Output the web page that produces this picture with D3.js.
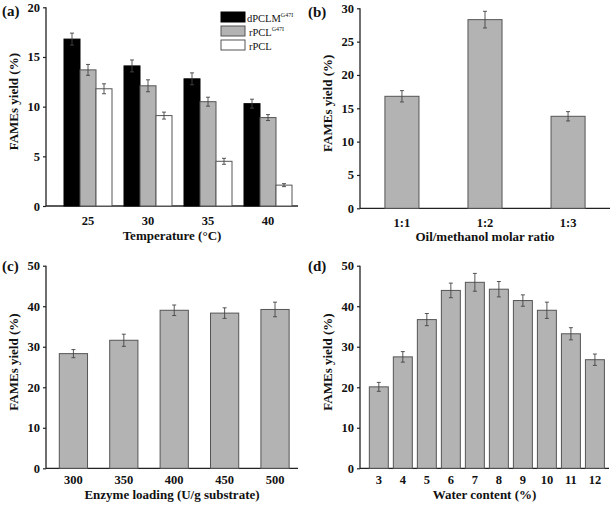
<!DOCTYPE html>
<html><head><meta charset="utf-8">
<script src="https://cdn.jsdelivr.net/npm/d3@7"></script>
<style>
body{margin:0;background:#fff;}
svg{display:block;}
text{font-family:"Liberation Serif","Times New Roman",serif;}
</style></head>
<body><svg id="c" width="614" height="508"></svg>
<script>
// ---- data ----
const tempCats = ["25","30","35","40"];
const tempSeries = ["dPCLM", "rPCL", "rPCL"];
const tempSeriesSup = ["G47I", "G47I", ""];
const tempVals = [
  [16.8, 14.1, 12.8, 10.3],
  [13.7, 12.1, 10.5, 8.9],
  [11.8, 9.1, 4.5, 2.1]
];
const tempErr = [
  [0.6, 0.6, 0.6, 0.45],
  [0.55, 0.6, 0.45, 0.3],
  [0.5, 0.35, 0.3, 0.15]
];
const ratioCats = ["1:1","1:2","1:3"];
const ratioVals = [16.8, 28.3, 13.8];
const ratioErr = [0.85, 1.25, 0.7];
const enzCats = ["300","350","400","450","500"];
const enzVals = [28.3, 31.6, 39.0, 38.3, 39.2];
const enzErr = [1.0, 1.5, 1.3, 1.3, 1.8];
const waterCats = ["3","4","5","6","7","8","9","10","11","12"];
const waterVals = [20.1, 27.5, 36.7, 43.9, 45.9, 44.2, 41.4, 39.0, 33.2, 26.8];
const waterErr = [1.1, 1.3, 1.5, 1.8, 2.2, 1.9, 1.4, 2.0, 1.5, 1.4];
const yTicksA = [0,5,10,15,20];
const yTicksB = [0,5,10,15,20,25,30];
const yTicksCD = [0,10,20,30,40,50];

const svg = d3.select("#c");
const GRAY = "#b3b3b3", EDGE = "#555";

function panel(o){
  const g = svg.append("g");
  const y = d3.scaleLinear().domain([0, o.ymax]).range([o.y0, o.y1]);
  const x = d3.scaleBand().domain(o.cats).range(o.brange)
    .paddingInner(o.pi).paddingOuter(o.po).align(o.align);
  const ya = g.append("g").attr("transform",`translate(${o.x0},0)`)
    .call(d3.axisLeft(y).tickValues(o.yticks).tickSize(3).tickPadding(3).tickSizeOuter(0));
  ya.select(".domain").remove();
  ya.selectAll(".tick line").attr("stroke","#222").attr("stroke-width",1.2);
  ya.selectAll(".tick text").attr("font-size",12.5).attr("font-weight","bold").attr("fill","#111")
    .style("font-family",'"Liberation Serif",serif');
  const xa = g.append("g").attr("transform",`translate(0,${o.y0})`)
    .call(d3.axisBottom(x).tickSize(0).tickPadding(o.xpad));
  xa.select(".domain").remove();
  xa.selectAll(".tick text").attr("font-size",12.5).attr("font-weight","bold").attr("fill","#111")
    .style("font-family",'"Liberation Serif",serif');
  g.append("line").attr("x1",o.x0).attr("x2",o.x0).attr("y1",o.y0).attr("y2",y(o.ymax))
    .attr("stroke","#222").attr("stroke-width",1.3);
  g.append("line").attr("x1",o.x0).attr("x2",o.x1).attr("y1",o.y0).attr("y2",o.y0)
    .attr("stroke","#222").attr("stroke-width",1.3);
  g.append("text").attr("x",o.lx).attr("y",o.ly).attr("font-size",15).attr("font-weight","bold")
    .attr("fill","#111").text(o.label);
  g.append("text").attr("transform",`translate(${o.ytx},${(o.y0+y(o.ymax))/2 - 5}) rotate(-90)`)
    .attr("text-anchor","middle").attr("font-size",13).attr("font-weight","bold").attr("fill","#111")
    .text("FAMEs yield (%)");
  g.append("text").attr("x",(o.x0+o.x1)/2 + (o.xtdx||0)).attr("y",o.xty).attr("text-anchor","middle")
    .attr("font-size",13).attr("font-weight","bold").attr("fill","#111").text(o.xtitle);
  return {g, x, y};
}

function errbars(g, cx, ylo, yhi){
  g.append("line").attr("x1",cx).attr("x2",cx).attr("y1",yhi).attr("y2",ylo).attr("stroke","#444").attr("stroke-width",0.9);
  g.append("line").attr("x1",cx-2).attr("x2",cx+2).attr("y1",yhi).attr("y2",yhi).attr("stroke","#444").attr("stroke-width",0.9);
  g.append("line").attr("x1",cx-2).attr("x2",cx+2).attr("y1",ylo).attr("y2",ylo).attr("stroke","#444").attr("stroke-width",0.9);
}

function simpleBars(p, cats, vals, errs){
  cats.forEach((c,i)=>{
    p.g.append("rect").attr("x",p.x(c)).attr("y",p.y(vals[i])).attr("width",p.x.bandwidth())
      .attr("height",p.y(0)-p.y(vals[i])).attr("fill",GRAY).attr("stroke",EDGE).attr("stroke-width",1);
    const cx = p.x(c)+p.x.bandwidth()/2;
    errbars(p.g, cx, p.y(vals[i]-errs[i]), p.y(vals[i]+errs[i]));
  });
}

// (a)
const pa = panel({cats:tempCats, ymax:20, y0:206, y1:7.3, x0:46, x1:298, brange:[46,298], pi:0.2, po:0.2, align:0.75,
  yticks:yTicksA, label:"(a)", lx:2, ly:16, ytx:18, xpad:10, xty:240, xtitle:"Temperature (°C)"});
const fills = ["#000", GRAY, "#fff"];
const sub = d3.scaleBand().domain(d3.range(3)).range([0, pa.x.bandwidth()]);
tempCats.forEach((c,j)=>{
  d3.range(3).forEach(s=>{
    const v = tempVals[s][j];
    pa.g.append("rect").attr("x",pa.x(c)+sub(s)).attr("y",pa.y(v)).attr("width",sub.bandwidth())
      .attr("height",pa.y(0)-pa.y(v)).attr("fill",fills[s]).attr("stroke",s===0?"#000":EDGE).attr("stroke-width",1);
  });
});
tempCats.forEach((c,j)=>{
  d3.range(3).forEach(s=>{
    const v = tempVals[s][j], e = tempErr[s][j];
    errbars(pa.g, pa.x(c)+sub(s)+sub.bandwidth()/2, pa.y(v-e), pa.y(v+e));
  });
});
// legend
const leg = pa.g.append("g");
tempSeries.forEach((name,i)=>{
  const ly = 12 + i*14;
  leg.append("rect").attr("x",221).attr("y",ly).attr("width",24).attr("height",10)
    .attr("fill",fills[i]).attr("stroke",i===0?"#000":EDGE).attr("stroke-width",1);
  const t = leg.append("text").attr("x",i===0?247:249).attr("y",ly+9.5).attr("font-size",10.5).attr("fill","#111");
  t.append("tspan").text(name);
  if (tempSeriesSup[i]) t.append("tspan").attr("font-size",6).attr("dy",-5).text(tempSeriesSup[i]);
});

// (b)
const pb = panel({cats:ratioCats, ymax:30, y0:208.3, y1:8.3, x0:360, x1:610, brange:[360,610], pi:0.59, po:0.3, align:0.5,
  yticks:yTicksB, label:"(b)", lx:308, ly:17, ytx:332, xpad:10, xty:241, xtitle:"Oil/methanol molar ratio"});
simpleBars(pb, ratioCats, ratioVals, ratioErr);

// (c)
const pc = panel({cats:enzCats, ymax:50, y0:468.3, y1:265.7, x0:46, x1:298, brange:[46,298], pi:0.44, po:0.22, align:0.6,
  yticks:yTicksCD, label:"(c)", lx:2, ly:271, ytx:18, xpad:7, xty:499, xtitle:"Enzyme loading (U/g substrate)"});
simpleBars(pc, enzCats, enzVals, enzErr);

// (d)
const pd = panel({cats:waterCats, ymax:50, y0:468.3, y1:265.7, x0:360, x1:609, brange:[360,609], pi:0.21, po:0.29, align:0.67,
  yticks:yTicksCD, label:"(d)", lx:308, ly:271, ytx:332, xpad:7, xty:499, xtitle:"Water content (%)"});
simpleBars(pd, waterCats, waterVals, waterErr);
</script></body></html>
